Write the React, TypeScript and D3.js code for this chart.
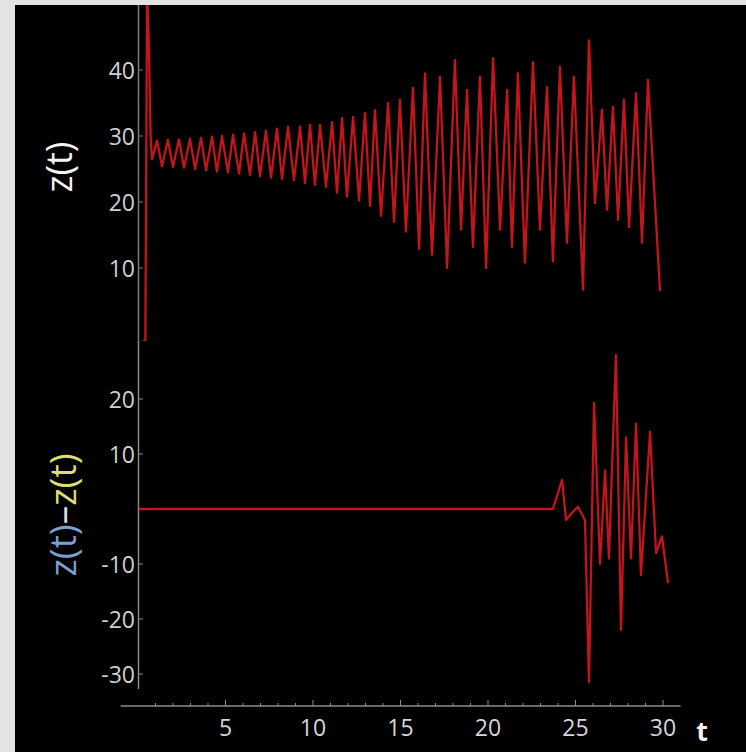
import React from 'react';
import * as d3 from 'd3';

// z(t) trajectory (upper panel): turning points
const tTop = [
  0.0, 0.42, 0.52, 0.62, 0.72, 0.8,
  1.09, 1.37, 1.71, 2.0, 2.34, 2.63, 2.97, 3.26, 3.6, 3.89, 4.23, 4.51, 4.8, 5.14,
  5.43, 5.77, 6.06, 6.4, 6.69, 6.97, 7.31, 7.6, 7.94, 8.23, 8.57, 8.91, 9.26, 9.54,
  9.83, 10.11, 10.4, 10.74, 11.09, 11.37, 11.66, 11.94, 12.29, 12.63, 12.97, 13.26,
  13.54, 13.89, 14.29, 14.63, 14.97, 15.31, 15.71, 16.06, 16.4, 16.8, 17.26, 17.66,
  18.11, 18.46, 18.8, 19.14, 19.54, 19.89, 20.29, 20.69, 21.09, 21.37, 21.71, 22.11,
  22.57, 22.97, 23.37, 23.71, 24.11, 24.51, 24.91, 25.43, 25.77, 26.11, 26.51, 26.8,
  27.14, 27.43, 27.77, 28.06, 28.46, 28.8, 29.14, 29.83,
];
const zTop = [
  -1.5, -1, 52, 44, 30, 26.5,
  29.3, 25.4, 29.4, 25.3, 29.5, 25.2, 29.6, 25.0, 29.7, 24.8, 29.9, 24.6, 30.0, 24.5,
  30.2, 24.3, 30.4, 24.1, 30.6, 23.9, 30.8, 23.7, 31.1, 23.5, 31.4, 23.3, 31.4, 22.9,
  31.7, 22.6, 31.7, 22.3, 32.1, 21.4, 32.7, 20.8, 32.9, 20.2, 33.5, 19.4,
  33.9, 17.9, 35.0, 17.0, 35.5, 15.5, 37.3, 12.9, 39.5, 12.0, 39.0, 10.0,
  41.5, 15.8, 37.0, 13.2, 39.0, 10.0, 41.8, 15.8, 37.0, 13.2, 39.5, 10.8,
  41.2, 15.8, 37.4, 11.0, 40.5, 13.8, 39.0, 6.7, 44.5, 19.8, 34.0, 18.8,
  34.4, 17.3, 35.5, 16.2, 36.5, 13.8, 38.5, 6.5,
];

// z(t) - z(t) difference of two trajectories (lower panel)
const tDiff = [
  0.0, 23.71, 24.23, 24.46, 24.8, 25.14, 25.54, 25.77, 26.06, 26.4, 26.69, 26.91,
  27.31, 27.6, 27.89, 28.17, 28.46, 28.74, 29.26, 29.6, 29.94, 30.29,
];
const zDiff = [
  0, 0, 5.3, -2, -0.7, 0.4, -2, -31.5, 19.3, -10, 7, -9,
  28, -22, 13, -9, 15.5, -12, 14, -8, -5, -13.5,
];

const topTicks = [10, 20, 30, 40];
const bottomTicks = [20, 10, -10, -20, -30];
const xTickLabels = [5, 10, 15, 20, 25, 30];

const FONT = '"Open Sans", "Noto Sans", sans-serif';

export default function App() {
  const W = 746;
  const H = 752;
  const x = d3.scaleLinear().domain([0, 30]).range([138, 663]);
  const yTop = d3.scaleLinear().domain([0, 40]).range([334, 70]);
  const yBot = d3.scaleLinear().domain([-30, 20]).range([674, 399]);

  const lineTop = d3
    .line<number>()
    .x((_, i) => x(tTop[i]))
    .y((d) => yTop(d));
  const lineBot = d3
    .line<number>()
    .x((_, i) => x(tDiff[i]))
    .y((d) => yBot(d));

  const minorX = x.ticks(30).filter((v) => v > 0);
  const axisY = 706;

  return (
    <svg
      width={W}
      height={H}
      style={{ position: 'fixed', left: 0, top: 0, display: 'block' }}
      xmlns="http://www.w3.org/2000/svg"
    >
      <defs>
        <clipPath id="clipTop">
          <rect x={139} y={5} width={W - 139} height={336} />
        </clipPath>
        <clipPath id="clipBot">
          <rect x={139} y={341} width={W - 139} height={350} />
        </clipPath>
        <filter id="soft" x="-5%" y="-5%" width="110%" height="110%">
          <feGaussianBlur stdDeviation="0.6" />
        </filter>
      </defs>
      <rect x={0} y={0} width={W} height={H} fill="#e3e3e1" />
      <rect x={15} y={5} width={W - 15} height={H - 5} fill="#000" />

      {/* axes */}
      <line x1={138.5} x2={138.5} y1={5} y2={341} stroke="#6f8275" strokeWidth={1.5} />
      <line x1={138.5} x2={138.5} y1={341} y2={689} stroke="#8a8a8a" strokeWidth={1.5} />
      <line x1={x(-1)} x2={x(31)} y1={axisY} y2={axisY} stroke="#8c8c8c" strokeWidth={1.3} />
      {minorX.map((v) => (
        <line
          key={'xt' + v}
          x1={x(v)}
          x2={x(v)}
          y1={axisY}
          y2={axisY - (v % 5 === 0 ? 6 : 3)}
          stroke="#8c8c8c"
          strokeWidth={1}
        />
      ))}
      {topTicks.map((v) => (
        <line key={'tt' + v} x1={139} x2={143} y1={yTop(v)} y2={yTop(v)} stroke="#6f8275" strokeWidth={1} />
      ))}
      {bottomTicks.map((v) => (
        <line key={'bt' + v} x1={139} x2={143} y1={yBot(v)} y2={yBot(v)} stroke="#8a8a8a" strokeWidth={1} />
      ))}

      {/* data */}
      <g clipPath="url(#clipTop)">
        <path
          d={lineTop(zTop) || ''}
          fill="none"
          stroke="#c0141f"
          strokeWidth={2.3}
          strokeLinejoin="round"
          filter="url(#soft)"
        />
      </g>
      <g clipPath="url(#clipBot)">
        <path
          d={lineBot(zDiff) || ''}
          fill="none"
          stroke="#c0141f"
          strokeWidth={2.3}
          strokeLinejoin="round"
          filter="url(#soft)"
        />
      </g>

      {/* tick labels */}
      {topTicks.map((v) => (
        <text
          key={'tl' + v}
          x={135}
          y={yTop(v)}
          textAnchor="end"
          dominantBaseline="central"
          fill="#cfcfcf"
          fontFamily={FONT}
          fontSize={23}
        >
          {v}
        </text>
      ))}
      {bottomTicks.map((v) => (
        <text
          key={'bl' + v}
          x={135}
          y={yBot(v)}
          textAnchor="end"
          dominantBaseline="central"
          fill="#cfcfcf"
          fontFamily={FONT}
          fontSize={23}
        >
          {v < 0 ? '-' + Math.abs(v) : v}
        </text>
      ))}
      {xTickLabels.map((v) => (
        <text
          key={'xl' + v}
          x={x(v)}
          y={736}
          textAnchor="middle"
          fill="#d6d6d6"
          fontFamily={FONT}
          fontSize={23}
        >
          {v}
        </text>
      ))}

      {/* axis labels */}
      <text x={702} y={741} textAnchor="middle" fill="#f2f2f2" fontFamily={FONT} fontSize={27} fontWeight="bold">
        t
      </text>
      <text
        transform="translate(58,167) rotate(-90)"
        textAnchor="middle"
        dominantBaseline="central"
        fill="#f4f4f4"
        fontFamily={FONT}
        fontSize={36}
      >
        z(t)
      </text>
      <text
        transform="translate(61,515) rotate(-90)"
        textAnchor="middle"
        dominantBaseline="central"
        fontFamily={FONT}
        fontSize={37}
      >
        <tspan fill="#7d9fd0">z(t)</tspan>
        <tspan fill="#e0e0e0">–</tspan>
        <tspan fill="#dede70">z(t)</tspan>
      </text>
    </svg>
  );
}
